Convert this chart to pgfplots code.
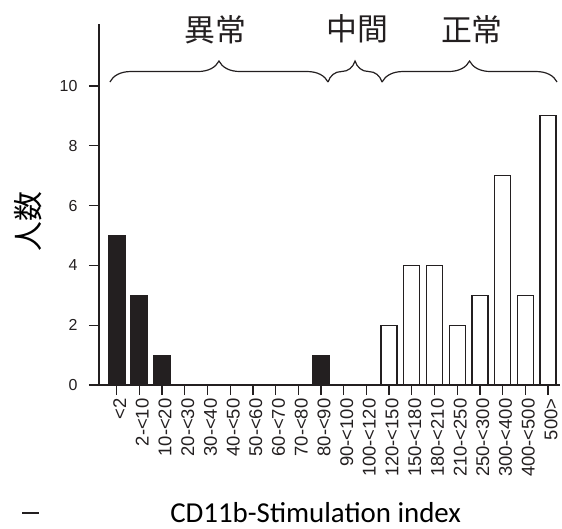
\documentclass[border=0pt]{standalone}
\usepackage{fontspec}
\setmainfont{Liberation Sans}
\newfontfamily\cjk{Noto Sans CJK JP}
\newfontfamily\calib{Carlito}
\usepackage{pgfplots}
\usepackage{pgfplotstable}
\pgfplotsset{compat=1.18}
\usetikzlibrary{decorations.pathreplacing}
\definecolor{barblack}{HTML}{231F20}

% counts per CD11b stimulation-index class (0 = "<2", ..., 19 = "500>")
\pgfplotstableread{
idx count
0 5
1 3
2 1
3 0
4 0
5 0
6 0
7 0
8 0
9 1
10 0
11 0
}\abnormal
\pgfplotstableread{
idx count
12 2
13 4
14 4
15 2
16 3
17 7
18 3
19 9
}\normal

\begin{document}
\begin{tikzpicture}
\path[use as bounding box] (-99bp,-144bp) rectangle (463bp,385bp);
\begin{axis}[
  at={(0,0)}, anchor=south west,
  scale only axis, width=461bp, height=361bp,
  xmin=-0.78, xmax=19.53,
  ymin=0, ymax=12.07,
  clip=false,
  axis x line=bottom, axis y line=left,
  axis line style={-, line width=1.8bp, color=barblack},
  xtick={0,...,19},
  xticklabels={<2,2-<10,10-<20,20-<30,30-<40,40-<50,50-<60,60-<70,70-<80,80-<90,90-<100,100-<120,120-<150,150-<180,180-<210,210-<250,250-<300,300-<400,400-<500,500>},
  ytick={0,2,...,10},
  tick align=outside,
  major tick length=10bp,
  tick style={line width=1.3bp, color=barblack},
  /pgf/number format/assume math mode=true,
  x tick label style={rotate=90, anchor=east, font=\fontsize{18.5}{18.5}\selectfont, text=barblack, yshift=-3bp},
  y tick label style={font=\fontsize{16}{16}\selectfont, text=barblack, xshift=-8bp},
  ylabel={\cjk 人数},
  ylabel style={at={(axis description cs:-0.153,0.452)}, anchor=center, font=\fontsize{30}{30}\selectfont},
  xlabel={\calib CD11b-Stimulation index},
  xlabel style={at={(axis description cs:0.47,-0.352)}, anchor=center, font=\fontsize{29}{29}\selectfont},
]
\addplot[ybar, bar width=17bp, bar shift=0pt, fill=barblack, draw=barblack, line width=1bp]
  table[x=idx, y=count]{\abnormal};
\addplot[ybar, bar width=16bp, bar shift=0pt, fill=white, draw=barblack, line width=1.3bp]
  table[x=idx, y=count]{\normal};

% group braces
\draw[decorate, decoration={brace, amplitude=21bp}, line width=1.2bp, color=barblack]
  (axis cs:-0.30,10.13) -- (axis cs:9.31,10.13);
\draw[decorate, decoration={brace, amplitude=21bp}, line width=1.2bp, color=barblack]
  (axis cs:9.31,10.13) -- (axis cs:11.69,10.13);
\draw[decorate, decoration={brace, amplitude=21bp}, line width=1.2bp, color=barblack]
  (axis cs:11.69,10.13) -- (axis cs:19.40,10.13);
\node[font=\cjk\fontsize{31}{31}\selectfont, text=barblack] at (axis cs:4.35,11.87) {異常};
\node[font=\cjk\fontsize{31}{31}\selectfont, text=barblack] at (axis cs:10.6,11.92) {中間};
\node[font=\cjk\fontsize{31}{31}\selectfont, text=barblack] at (axis cs:15.65,11.87) {正常};
% short dash to the left of the axis title
\draw[line width=1.8bp, color=barblack] (axis description cs:-0.166,-0.355) -- (axis description cs:-0.131,-0.355);
\end{axis}
\end{tikzpicture}
\end{document}
